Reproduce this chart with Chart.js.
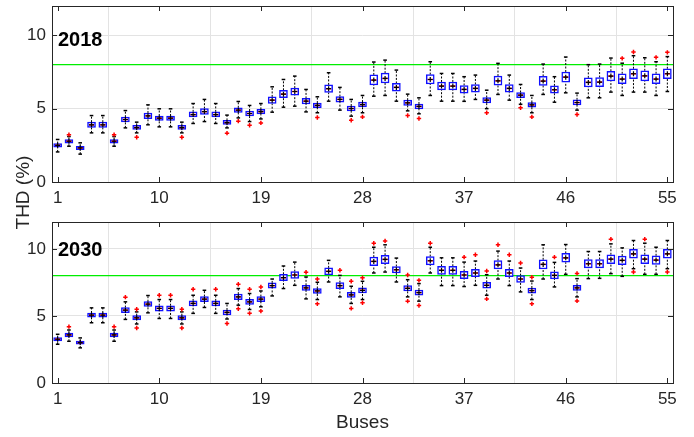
<!DOCTYPE html>
<html>
<head>
<meta charset="utf-8">
<script src="https://cdn.jsdelivr.net/npm/chart.js@4.4.1/dist/chart.umd.min.js"></script>
<style>
  html, body { margin: 0; padding: 0; background: #ffffff; }
  #wrap { position: relative; width: 694px; height: 437px; overflow: hidden; background: #fff; font-family: "Liberation Sans", Arial, sans-serif; }
  canvas { position: absolute; left: 0; top: 0; }
  .lbl { position: absolute; color: #262626; line-height: 1; white-space: nowrap; }
  .panelTitle { font-weight: bold; font-size: 20px; color: #000; }
</style>
</head>
<body>
<div id="wrap">
  <canvas id="c18" width="694" height="437"></canvas>
  <canvas id="c30" width="694" height="437"></canvas>
  <div class="lbl panelTitle" style="left:58px; top:29px;">2018</div>
  <div class="lbl panelTitle" style="left:58px; top:239px;">2030</div>
  <div class="lbl" style="left:325px; top:412px; width:75px; text-align:center; font-size:19px;">Buses</div>
  <div class="lbl" style="left:-18px; top:183px; width:80px; text-align:center; font-size:19px; transform: rotate(-90deg);">THD (%)</div>
</div>
<script>
// ---------- DATA ----------
const buses = Array.from({length: 55}, (_, i) => i + 1);
const xTickLabels = [1, 10, 19, 28, 37, 46, 55];
const yTickLabels = [0, 5, 10];
const thdLimit = 8;

// 2018
const med18 = [2.5,2.78,2.32,3.9,3.9,2.78,4.26,3.71,4.51,4.35,4.35,3.71,4.6,4.8,4.6,4.05,4.9,4.67,4.8,5.58,5.99,6.17,5.51,5.22,6.36,5.63,5.01,5.28,6.95,7.06,6.45,5.4,5.15,6.99,6.54,6.54,6.31,6.38,5.58,6.9,6.38,5.92,5.26,6.88,6.29,7.15,5.42,6.79,6.81,7.22,7.02,7.38,7.24,7.02,7.38];
const q1_18 = [2.38,2.65,2.2,3.72,3.72,2.65,4.1,3.58,4.32,4.2,4.2,3.58,4.44,4.6,4.44,3.92,4.74,4.5,4.65,5.35,5.75,5.92,5.32,5.06,6.1,5.45,4.85,5.12,6.62,6.75,6.2,5.22,4.98,6.68,6.28,6.28,6.05,6.12,5.4,6.6,6.12,5.75,5.1,6.58,6.05,6.8,5.25,6.48,6.5,6.9,6.7,7.05,6.9,6.7,7.05];
const q3_18 = [2.62,2.9,2.44,4.08,4.08,2.9,4.42,3.86,4.7,4.5,4.5,3.86,4.78,5.0,4.78,4.2,5.06,4.84,4.95,5.8,6.25,6.4,5.7,5.38,6.62,5.82,5.18,5.45,7.3,7.42,6.72,5.58,5.32,7.32,6.82,6.82,6.58,6.65,5.76,7.22,6.65,6.1,5.42,7.2,6.55,7.5,5.6,7.1,7.12,7.55,7.38,7.72,7.58,7.38,7.72];
const wlo18 = [2.05,2.44,1.9,3.35,3.35,2.44,3.69,3.35,3.9,3.76,3.76,3.35,3.99,4.12,3.99,3.69,4.37,4.12,4.3,4.76,5.1,5.17,4.78,4.72,5.51,4.9,4.49,4.72,5.85,5.9,5.51,4.85,4.65,5.9,5.51,5.51,5.5,5.63,5.0,5.97,5.58,5.3,4.72,5.97,5.44,6.08,4.9,5.74,5.74,6.13,5.9,6.13,6.13,5.9,6.17];
const whi18 = [2.9,3.1,2.67,4.53,4.53,3.1,4.87,4.08,5.26,4.99,4.99,4.08,5.35,5.63,5.35,4.56,5.49,5.22,5.35,6.49,6.99,7.22,6.31,5.81,7.45,6.45,5.63,5.9,8.18,8.31,7.63,5.99,5.74,8.2,7.4,7.4,7.18,7.29,6.26,8.09,7.29,6.65,5.9,8.04,7.18,8.52,6.06,8.0,8.04,8.45,8.1,8.61,8.47,8.2,8.55];
const out18 = [[2,3.23],[6,3.23],[8,3.05],[12,3.05],[16,3.33],[17,4.15],[18,3.87],[19,4.03],[24,4.4],[27,4.21],[28,4.44],[32,4.53],[33,4.33],[39,4.72],[42,5.06],[43,4.44],[47,4.6],[51,8.43],[52,8.86],[54,8.5],[55,8.84]];

// 2030
const med30 = [3.26,3.58,3.01,5.06,5.06,3.58,5.43,4.86,5.88,5.56,5.56,4.86,5.93,6.25,5.93,5.26,6.42,6.05,6.25,7.26,7.85,8.05,7.09,6.86,8.32,7.26,6.57,6.91,9.06,9.21,8.44,7.06,6.74,9.11,8.4,8.4,8.05,8.2,7.28,8.81,8.2,7.75,6.89,8.84,8.02,9.33,7.09,8.89,8.89,9.23,9.14,9.63,9.23,9.16,9.63];
const q1_30 = [3.14,3.44,2.9,4.9,4.9,3.44,5.24,4.7,5.7,5.36,5.36,4.7,5.74,6.06,5.74,5.08,6.22,5.86,6.06,7.06,7.62,7.8,6.9,6.68,8.06,7.04,6.38,6.72,8.75,8.9,8.2,6.86,6.55,8.8,8.1,8.1,7.78,7.92,7.06,8.5,7.92,7.5,6.7,8.5,7.76,9.0,6.9,8.58,8.58,8.9,8.82,9.3,8.9,8.84,9.3];
const q3_30 = [3.38,3.72,3.12,5.22,5.22,3.72,5.62,5.02,6.06,5.76,5.76,5.02,6.12,6.44,6.12,5.44,6.62,6.24,6.44,7.46,8.1,8.3,7.28,7.04,8.58,7.48,6.76,7.1,9.38,9.52,8.68,7.26,6.93,9.42,8.7,8.7,8.32,8.48,7.5,9.12,8.48,8.0,7.08,9.18,8.28,9.66,7.28,9.2,9.2,9.56,9.46,9.96,9.56,9.48,9.96];
const wlo30 = [2.89,3.11,2.62,4.49,4.49,3.11,4.74,4.4,5.23,4.81,4.81,4.4,5.19,5.63,5.19,4.77,5.8,5.48,5.68,6.49,7.04,7.28,6.27,6.22,7.53,6.42,5.93,6.22,8.2,8.27,7.53,6.42,6.1,8.2,7.26,7.26,7.19,7.28,6.54,7.75,7.26,6.79,6.22,7.75,7.16,8.1,6.42,7.78,7.8,8.15,7.95,8.52,8.1,8.1,8.52];
const whi30 = [3.63,3.95,3.36,5.6,5.6,3.95,6.05,5.3,6.52,6.22,6.22,5.3,6.54,6.91,6.54,5.93,7.04,6.67,6.86,7.75,8.72,9.01,7.9,7.51,9.14,8.02,7.21,7.58,10.12,10.3,9.31,7.7,7.41,10.12,9.33,9.33,9.01,9.09,8.07,9.83,9.09,8.57,7.6,10.3,8.99,10.32,7.78,9.8,9.8,10.37,10.07,10.62,10.42,10.12,10.62];
const out30 = [[2,4.2],[6,4.2],[7,6.4],[8,4.1],[8,5.5],[10,6.54],[11,6.54],[12,4.1],[12,5.5],[13,6.99],[15,6.99],[16,4.44],[17,7.36],[17,5.53],[18,6.99],[18,5.19],[19,7.16],[19,5.36],[23,8.25],[24,7.75],[24,5.9],[26,8.4],[27,7.58],[27,5.56],[28,7.85],[28,5.98],[29,10.42],[30,10.59],[32,8.05],[32,6.1],[33,7.65],[33,5.78],[34,10.42],[37,9.38],[38,9.56],[39,8.35],[39,6.27],[40,10.3],[41,9.56],[42,8.94],[43,7.88],[43,5.9],[45,9.38],[47,8.17],[47,6.12],[50,10.72],[52,8.27],[53,10.72],[55,8.27]];

// ---------- CHART ----------
Chart.defaults.font.family = '"Liberation Sans", Arial, sans-serif';
const AXIS_COLOR = '#262626';
const GRID_COLOR = '#e3e3e3';

const framePlugin = {
  id: 'frame',
  afterDraw(chart) {
    const {ctx, chartArea: a, scales: {x, y}} = chart;
    ctx.save();
    ctx.strokeStyle = AXIS_COLOR;
    ctx.lineWidth = 1;
    const tl = 5;
    ctx.beginPath();
    xTickLabels.forEach(v => {
      const px = Math.round(x.getPixelForValue(v)) + 0.5;
      ctx.moveTo(px, a.bottom); ctx.lineTo(px, a.bottom - tl);
      ctx.moveTo(px, a.top); ctx.lineTo(px, a.top + tl);
    });
    yTickLabels.forEach(v => {
      const py = Math.round(y.getPixelForValue(v)) + 0.5;
      ctx.moveTo(a.left, py); ctx.lineTo(a.left + tl, py);
      ctx.moveTo(a.right, py); ctx.lineTo(a.right - tl, py);
    });
    ctx.stroke();
    ctx.strokeRect(Math.round(a.left) + 0.5, Math.round(a.top) + 0.5, Math.round(a.right - a.left), Math.round(a.bottom - a.top));
    ctx.restore();
  }
};

function whiskerData(from, to) {
  const d = [];
  buses.forEach((b, i) => {
    d.push({x: b, y: from[i]}, {x: b, y: to[i]}, {x: b, y: null});
  });
  return d;
}

function makeChart(id, med, q1, q3, wlo, whi, out, padTop, padBottom, xAxisH) {
  const ctx = document.getElementById(id).getContext('2d');
  return new Chart(ctx, {
    type: 'bar',
    data: {
      datasets: [
        { type: 'line', label: 'limit', data: [{x: 0.5, y: thdLimit}, {x: 55.5, y: thdLimit}],
          borderColor: '#00ee00', borderWidth: 1.2, pointRadius: 0, order: 20 },
        { type: 'line', label: 'upper whisker', data: whiskerData(q3, whi), borderColor: '#000', borderWidth: 1,
          borderDash: [2, 1.5], pointRadius: 0, spanGaps: false, order: 15 },
        { type: 'line', label: 'lower whisker', data: whiskerData(wlo, q1), borderColor: '#000', borderWidth: 1,
          borderDash: [2, 1.5], pointRadius: 0, spanGaps: false, order: 15 },
        { type: 'bar', label: 'box', data: buses.map((b, i) => ({x: b, y: [q1[i], q3[i]]})),
          backgroundColor: 'rgba(255,255,255,1)', borderColor: '#1010ff', borderWidth: 1.5, borderSkipped: false,
          barThickness: 8, order: 10 },
        { type: 'scatter', label: 'caps', data: buses.map((b, i) => ({x: b, y: whi[i]})).concat(buses.map((b, i) => ({x: b, y: wlo[i]}))),
          pointStyle: 'line', pointRadius: 1.8, borderColor: '#000', borderWidth: 1.5, order: 8 },
        { type: 'scatter', label: 'median', data: buses.map((b, i) => ({x: b, y: med[i]})),
          pointStyle: 'line', pointRadius: 2.5, borderColor: '#ff0000', borderWidth: 1.5, order: 6 },
        { type: 'scatter', label: 'mean', data: buses.map((b, i) => ({x: b, y: med[i]})),
          pointStyle: 'cross', pointRadius: 2.5, borderColor: '#000', borderWidth: 1.2, order: 4 },
        { type: 'scatter', label: 'outliers', data: out.map(p => ({x: p[0], y: p[1]})),
          pointStyle: 'cross', pointRadius: 2.2, borderColor: '#ff0000', borderWidth: 1.5, order: 2 }
      ]
    },
    options: {
      responsive: false,
      animation: false,
      devicePixelRatio: 1,
      layout: { padding: { top: padTop, right: 21, bottom: padBottom, left: 0 } },
      plugins: { legend: { display: false }, tooltip: { enabled: false } },
      scales: {
        x: {
          type: 'linear', min: 0.5, max: 55.5, offset: false,
          afterBuildTicks: s => { s.ticks = xTickLabels.map(v => ({value: v})); },
          afterFit: s => { s.height = xAxisH; s.paddingLeft = 0; s.paddingRight = 0; },
          grid: { color: GRID_COLOR, drawTicks: false, lineWidth: 1 },
          border: { display: false },
          ticks: { color: AXIS_COLOR, font: { size: 17 }, padding: 6, autoSkip: false, maxRotation: 0 }
        },
        y: {
          type: 'linear', min: 0, max: 12,
          afterBuildTicks: s => { s.ticks = yTickLabels.map(v => ({value: v})); },
          afterFit: s => { s.width = 52; s.paddingTop = 0; s.paddingBottom = 0; },
          grid: { color: GRID_COLOR, drawTicks: false, lineWidth: 1 },
          border: { display: false },
          ticks: { color: AXIS_COLOR, font: { size: 17 }, padding: 6 }
        }
      }
    },
    plugins: [framePlugin]
  });
}

makeChart('c18', med18, q1_18, q3_18, wlo18, whi18, out18, 6, 225, 30);
makeChart('c30', med30, q1_30, q3_30, wlo30, whi30, out30, 222, 0, 54);
</script>
</body>
</html>
